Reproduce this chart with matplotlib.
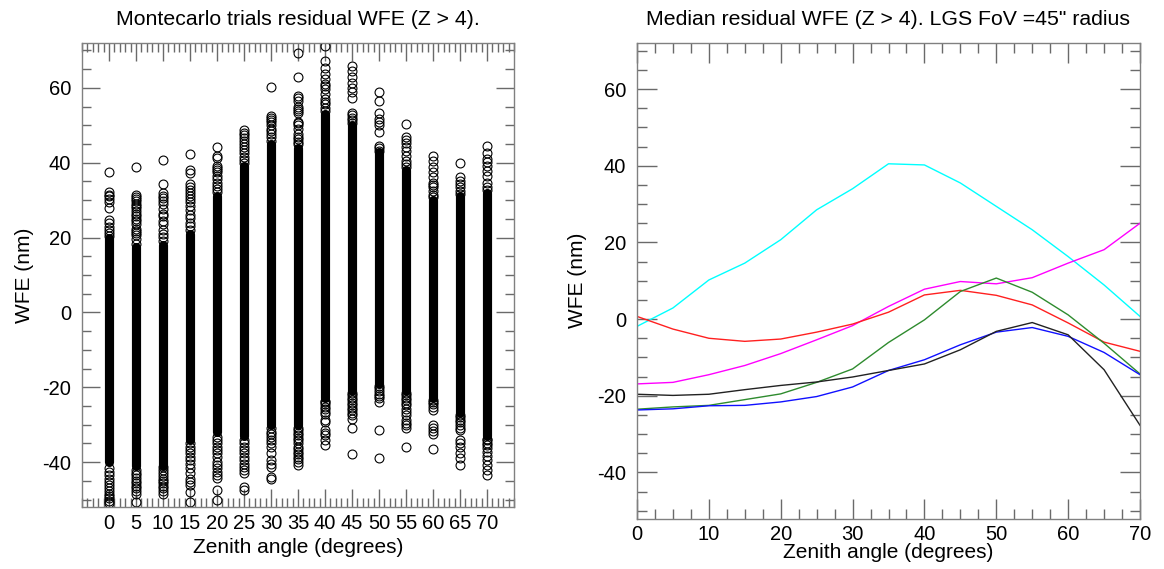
import matplotlib
matplotlib.use("Agg")
import matplotlib.pyplot as plt
from matplotlib.ticker import FixedLocator, MultipleLocator

plt.rcParams['font.family'] = ['Liberation Sans', 'DejaVu Sans']
plt.rcParams['axes.unicode_minus'] = False

# zenith angles of the Monte Carlo runs
angles = [0, 5, 10, 15, 20, 25, 30, 35, 40, 45, 50, 55, 60, 65, 70]

# solid part of every trial column (nm)
core_lo = [-40, -41, -41, -34, -32, -33, -30, -30, -23, -21, -19, -21, -23, -27, -33]
core_hi = [20, 17.5, 18, 21, 31, 39, 45, 44, 53, 50, 43, 38, 30, 31, 32]

# individual trials standing out above / below the solid part
upper_trials = [
    [37.4, 32.1, 31.5, 31.0, 30.2, 29.6, 27.9, 24.7, 24.0, 22.7, 22.0, 21.2, 20.5],
    [38.9, 31.5, 30.9, 30.3, 29.7, 29.1, 28.5, 27.8, 27.1, 26.4, 25.7, 25.0, 24.3,
     23.6, 22.3, 21.8, 21.2, 20.6, 19.5, 18.4],
    [40.7, 34.3, 31.8, 31.2, 30.5, 29.9, 29.0, 27.6, 26.4, 25.8, 24.3, 23.6, 22.0,
     21.0, 20.2, 19.0],
    [42.3, 38.0, 37.2, 34.3, 33.4, 32.6, 31.8, 31.0, 30.2, 29.4, 28.4, 27.3, 26.0,
     25.2, 24.0, 23.0, 22.0],
    [44.3, 41.9, 41.3, 39.2, 38.6, 38.0, 37.4, 36.5, 35.6, 34.7, 33.8, 33.0, 32.2],
    [48.7, 48.0, 47.3, 46.6, 45.9, 45.0, 44.2, 43.4, 42.5, 41.6, 40.7, 39.8],
    [60.3, 52.5, 52.0, 51.5, 51.0, 50.0, 49.0, 48.4, 47.6, 46.8, 45.9],
    [69.4, 62.9, 57.9, 57.3, 56.5, 54.9, 54.3, 53.9, 53.2, 51.0, 50.5, 50.0, 49.0,
     47.6, 47.0, 46.4, 45.6, 44.9],
    [71.2, 67.2, 65.2, 63.6, 62.3, 61.0, 60.4, 59.6, 58.3, 57.0, 56.3, 55.6, 54.6, 53.9],
    [65.9, 64.5, 62.8, 61.4, 60.1, 58.8, 57.4, 53.4, 52.7, 52.0, 51.3, 50.6],
    [58.8, 56.5, 53.4, 51.6, 50.9, 50.0, 48.1, 44.6, 43.9, 43.2],
    [50.3, 46.8, 46.1, 45.4, 44.1, 43.2, 41.9, 40.5, 39.7, 38.8],
    [41.9, 40.5, 38.8, 37.4, 36.1, 34.7, 34.0, 33.4, 32.4, 31.5, 30.8],
    [40.0, 36.1, 35.2, 34.3, 33.4, 32.5, 31.6],
    [44.4, 42.7, 41.0, 40.1, 39.2, 37.9, 36.5, 34.7, 33.4, 32.7],
]
lower_trials = [
    [-41.7, -42.6, -43.5, -44.4, -45.3, -46.1, -47.0, -47.7, -48.4, -49.1, -49.7, -50.4, -51.0],
    [-42.1, -42.8, -43.5, -44.2, -45.0, -45.7, -46.4, -47.0, -47.7, -48.4, -50.6],
    [-41.2, -42.1, -43.0, -43.7, -44.4, -45.1, -45.7, -46.4, -47.0, -47.7, -48.4],
    [-35.0, -36.0, -36.8, -37.7, -38.6, -39.5, -40.4, -41.7, -43.0, -44.4, -45.2,
     -46.1, -47.9, -50.6],
    [-33.2, -34.1, -35.0, -35.9, -36.8, -37.7, -38.6, -39.9, -40.8, -41.7, -42.6,
     -43.5, -44.2, -47.5, -50.1],
    [-34.1, -35.0, -35.9, -36.8, -37.7, -38.6, -39.5, -40.4, -41.2, -42.1, -43.0, -46.6, -47.5],
    [-30.9, -31.9, -32.6, -33.2, -34.1, -35.0, -35.9, -37.7, -39.5, -40.4, -41.2, -43.9, -44.4],
    [-31.0, -31.5, -32.2, -32.8, -33.5, -34.1, -35.0, -35.9, -36.6, -37.2, -37.9,
     -38.6, -39.2, -39.9, -40.8],
    [-23.8, -24.0, -24.6, -25.2, -25.9, -26.6, -27.2, -28.8, -29.4, -31.5, -32.2, -32.8, -34.1, -35.5],
    [-21.5, -22.1, -22.8, -23.5, -24.1, -24.8, -25.5, -26.1, -26.8, -27.5, -28.4, -31.0, -37.9],
    [-19.6, -20.3, -21.0, -21.7, -22.3, -23.0, -23.9, -31.5, -38.8],
    [-21.5, -22.1, -22.8, -23.5, -24.1, -24.8, -25.7, -26.6, -27.5, -28.8, -29.5,
     -30.1, -31.0, -35.9],
    [-23.3, -24.0, -24.6, -25.2, -26.1, -30.1, -31.0, -31.7, -32.4, -36.4],
    [-27.3, -28.0, -28.8, -29.4, -30.1, -30.8, -31.5, -34.1, -35.0, -35.9, -37.7, -39.0, -40.8],
    [-33.8, -34.1, -34.8, -35.4, -36.3, -37.2, -38.4, -39.5, -40.8, -42.1, -43.5],
]

# median residual WFE per LGS configuration (nm)
median_cyan = [-1.9, 2.9, 10.2, 14.6, 20.7, 28.5, 34.0, 40.5, 40.2, 35.5, 29.4, 23.3, 16.3, 8.9, 0.7]
median_magenta = [-16.9, -16.5, -14.5, -12.1, -9.0, -5.4, -1.7, 3.3, 7.8, 9.8, 9.2, 10.8, 14.6, 18.1, 25.0]
median_red = [0.7, -2.6, -5.0, -5.8, -5.2, -3.4, -1.3, 1.8, 6.3, 7.5, 6.2, 3.7, -1.0, -6.0, -8.4]
median_green = [-23.5, -22.9, -22.5, -21.0, -19.5, -16.5, -13.0, -6.1, -0.2, 7.2, 10.7, 7.0, 1.1, -6.3, -14.3]
median_blue = [-23.7, -23.4, -22.6, -22.5, -21.6, -20.2, -17.7, -13.4, -10.6, -6.7, -3.4, -2.2, -4.5, -8.7, -14.5]
median_black = [-19.6, -19.9, -19.6, -18.4, -17.3, -16.4, -15.1, -13.4, -11.7, -8.0, -3.2, -0.9, -4.1, -13.2, -27.7]

medians = [median_cyan, median_magenta, median_red, median_green, median_blue, median_black]
median_colors = ['#00ffff', '#ff00ff', '#ff2020', '#2e8b2e', '#1010ff', '#222222']

W, H = 1164, 569
fig = plt.figure(figsize=(W / 100, H / 100), dpi=100)

ax1 = fig.add_axes([82 / W, 1 - 507 / H, 432 / W, 464 / H])
ax2 = fig.add_axes([637 / W, 1 - 518.5 / H, 503 / W, 475.5 / H])

spine_col = '#808080'
tick_fs = 14.5
label_fs = 15
title_fs = 15.3


def style_axis(ax, major_len, minor_len, xpad):
    for s in ax.spines.values():
        s.set_color(spine_col)
        s.set_linewidth(1.0)
    ax.tick_params(which='both', direction='in', top=True, right=True,
                   color='#6a6a6a', labelsize=tick_fs, width=1.0)
    ax.tick_params(which='major', length=major_len)
    ax.tick_params(which='minor', length=minor_len)
    ax.tick_params(axis='y', pad=8)
    ax.tick_params(axis='x', pad=xpad)


# Monte Carlo trials
for a, lo, hi, up, dn in zip(angles, core_lo, core_hi, upper_trials, lower_trials):
    lc = ax1.vlines(a, lo, hi, color='black', linewidth=6.6)
    lc.set_capstyle('round')
    vals = up + dn
    ax1.plot([a] * len(vals), vals, 'o', mfc='none', mec='black', ms=6.4, mew=0.8)

ax1.set_xlim(-5, 75)
ax1.set_ylim(-52, 72)
ax1.xaxis.set_major_locator(FixedLocator(angles))
ax1.xaxis.set_minor_locator(MultipleLocator(1))
ax1.yaxis.set_major_locator(MultipleLocator(20))
ax1.yaxis.set_minor_locator(MultipleLocator(5))
style_axis(ax1, 13, 6.5, 5)
ax1.set_title('Montecarlo trials residual WFE (Z > 4).', fontsize=title_fs, pad=13)
ax1.set_xlabel('Zenith angle (degrees)', fontsize=label_fs)
ax1.set_ylabel('WFE (nm)', fontsize=label_fs)
ax1.xaxis.set_label_coords(0.5, -0.066)
ax1.yaxis.set_label_coords(-0.11, 0.5)

# median curves
for vals, col in zip(medians, median_colors):
    ax2.plot(angles, vals, color=col, linewidth=1.0)

ax2.set_xlim(0, 70)
ax2.set_ylim(-52, 72)
ax2.xaxis.set_major_locator(MultipleLocator(10))
ax2.xaxis.set_minor_locator(MultipleLocator(2.5))
ax2.yaxis.set_major_locator(MultipleLocator(20))
ax2.yaxis.set_minor_locator(MultipleLocator(5))
style_axis(ax2, 14.5, 7.2, 5)
ax2.set_title('Median residual WFE (Z > 4). LGS FoV =45" radius', fontsize=title_fs, pad=13)
ax2.set_xlabel('Zenith angle (degrees)', fontsize=label_fs)
ax2.set_ylabel('WFE (nm)', fontsize=label_fs)
ax2.xaxis.set_label_coords(0.5, -0.052)
ax2.yaxis.set_label_coords(-0.1, 0.5)

fig.savefig('out.png', dpi=100)
